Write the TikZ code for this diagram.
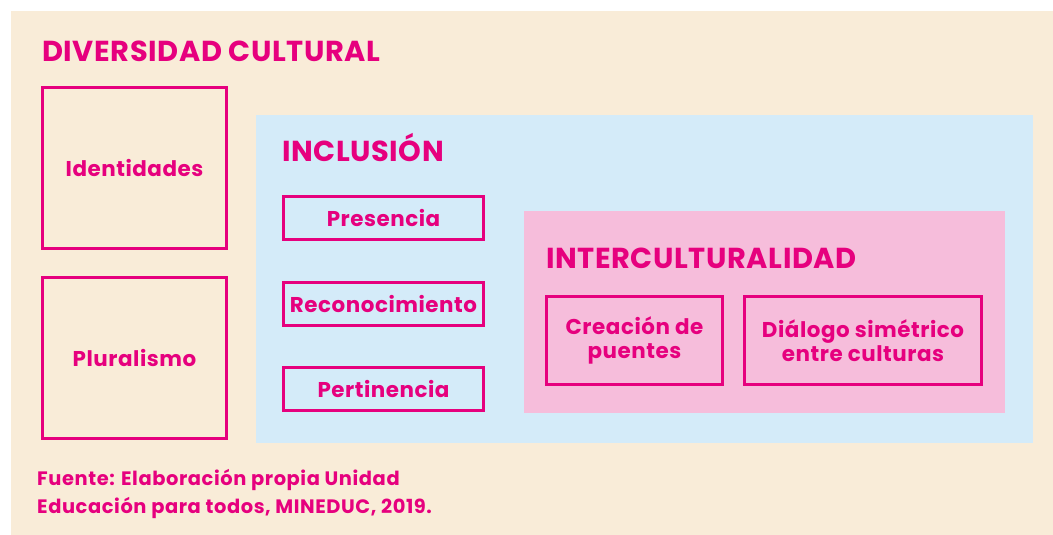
\documentclass[tikz,border=0pt]{standalone}
\usepackage{fontspec}
\setmainfont{Poppins}
\newfontfamily\ttlfont{Poppins}[LetterSpace=2]
\newfontfamily\boxfont{Poppins}[LetterSpace=2.5]
\newfontfamily\srcfont{Poppins}[LetterSpace=3]
\definecolor{mag}{HTML}{E6007E}
\definecolor{beige}{HTML}{F9ECD8}
\definecolor{lblue}{HTML}{D4EBF9}
\definecolor{lpink}{HTML}{F6BDDB}
\tikzset{
  box/.style={draw=mag, line width=3bp, inner sep=0pt, align=center, text=mag, font=\boxfont\bfseries\fontsize{21.5}{24}\selectfont},
  ttl/.style={anchor=base west, inner sep=0pt, text=mag, font=\ttlfont\bfseries\fontsize{29}{30}\selectfont},
}
\begin{document}
\begin{tikzpicture}[x=1bp,y=-1bp]
\useasboundingbox[fill=white] (0,0) rectangle (1053,535);
\fill[beige] (11,11) rectangle (1053,535);
\fill[lblue] (256,115) rectangle (1033,443);
\fill[lpink] (524,211) rectangle (1005,413);
\node[ttl] (t1) at (42,62) {DIVERSIDAD CULTURAL};
\node[ttl] (t2) at (282,162) {INCLUSIÓN};
\node[ttl] (t3) at (546,269) {INTERCULTURALIDAD};
\node[box, minimum width=184bp, minimum height=161bp] (ide) at (134.5,168) {Identidades};
\node[box, minimum width=184bp, minimum height=161bp] (plu) at (134.5,358) {Pluralismo};
\node[box, minimum width=200bp, minimum height=43bp] (pre) at (383.5,218) {Presencia};
\node[box, minimum width=200bp, minimum height=43bp] (rec) at (383.5,304) {Reconocimiento};
\node[box, minimum width=200bp, minimum height=43bp] (per) at (383.5,389) {Pertinencia};
\node[box, minimum width=176bp, minimum height=88bp] (cre) at (634.5,340.5) {Creación de\\puentes};
\node[box, minimum width=237bp, minimum height=88bp] (dia) at (863,340.5) {Diálogo simétrico\\entre culturas};
\node[anchor=base west, inner sep=0pt, text=mag, align=left, font=\srcfont\bfseries\fontsize{19.5}{28}\selectfont] (src) at (37,513) {Fuente: Elaboración propia Unidad\\Educación para todos, MINEDUC, 2019.};
\end{tikzpicture}
\end{document}
